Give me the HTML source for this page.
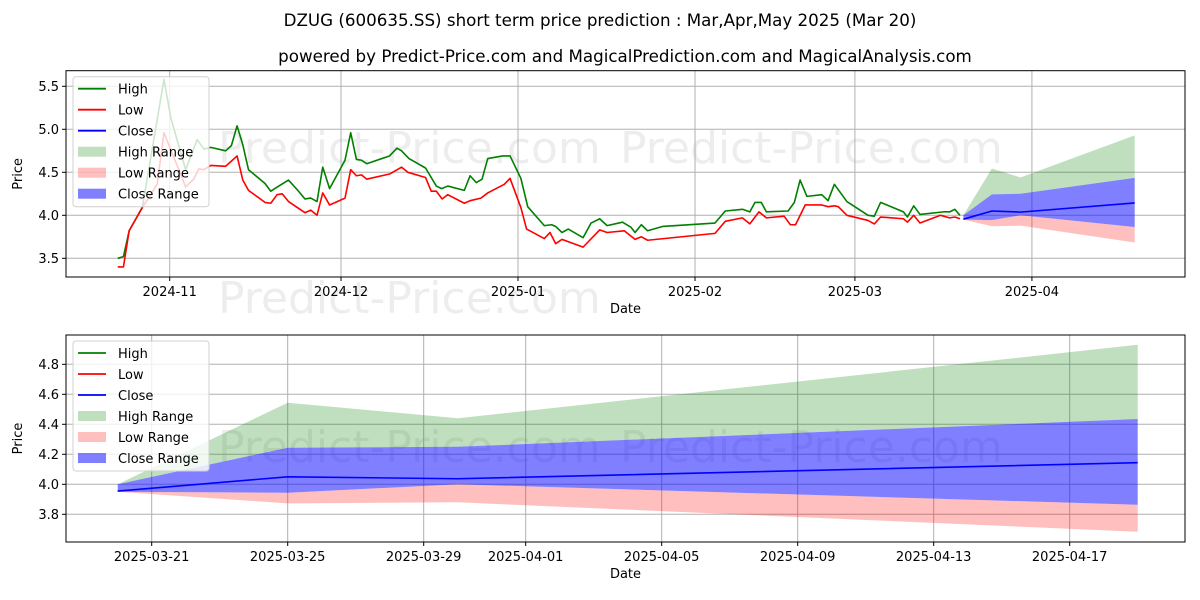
<!DOCTYPE html>
<html><head><meta charset="utf-8"><style>
html,body{margin:0;padding:0;background:#fff;}
svg{display:block;font-family:"DejaVu Sans","Liberation Sans",sans-serif;}
</style></head><body>
<svg id="c" width="1200" height="600" xmlns="http://www.w3.org/2000/svg">
<rect width="1200" height="600" fill="#fff"/>
<text x="600" y="26" font-size="16.7" text-anchor="middle">DZUG (600635.SS) short term price prediction : Mar,Apr,May 2025 (Mar 20)</text>
<text x="625" y="62" font-size="16.7" text-anchor="middle">powered by Predict-Price.com and MagicalPrediction.com and MagicalAnalysis.com</text>
<g id="top"></g>
<g id="bot"></g>
</svg>
<script>
// Historical series (day offsets from 2024-11-01)
const highDays=[-9.1,-8.1,-7.1,-4.8,-1.0,0.2,2.8,4.8,6.0,7.2,9.8,10.8,11.8,12.8,13.8,16.7,17.7,19.1,20.8,22.3,23.7,24.7,25.8,26.8,28.0,30.7,31.7,32.7,33.6,34.5,38.5,39.8,40.6,41.9,44.8,46.7,47.6,48.7,51.6,52.6,53.7,54.7,55.7,58.3,59.6,61.5,62.7,65.6,66.9,67.6,68.7,69.8,72.4,73.8,75.3,76.6,79.3,80.8,81.5,82.6,83.7,86.3,95.5,97.3,100.3,101.6,102.5,103.6,104.5,108.3,109.4,110.4,111.6,114.2,115.3,116.4,118.6,122.3,123.4,124.5,128.5,129.2,130.3,131.4,135.5,136.6,137.5,138.4];
const highVals=[3.50,3.52,3.82,4.09,5.58,5.13,4.53,4.88,4.77,4.79,4.75,4.81,5.04,4.82,4.53,4.37,4.28,4.34,4.41,4.30,4.19,4.20,4.16,4.56,4.31,4.64,4.96,4.65,4.64,4.60,4.69,4.78,4.75,4.66,4.55,4.34,4.31,4.34,4.29,4.46,4.38,4.42,4.66,4.69,4.69,4.43,4.10,3.88,3.89,3.87,3.80,3.84,3.74,3.91,3.96,3.88,3.92,3.86,3.80,3.89,3.82,3.87,3.91,4.05,4.07,4.04,4.15,4.15,4.04,4.05,4.15,4.41,4.22,4.24,4.17,4.36,4.16,4.00,3.99,4.15,4.04,3.98,4.11,4.01,4.04,4.04,4.07,4.00];
const lowDays=[-9.1,-8.1,-7.1,-4.8,-2.2,-1.0,0.2,2.8,4.2,5.1,6.0,7.2,9.8,11.8,12.8,13.8,16.7,17.7,18.8,19.7,20.8,23.7,24.7,25.8,26.8,28.0,30.7,31.7,32.7,33.6,34.5,38.5,40.6,41.7,44.8,45.8,46.7,47.7,48.7,51.6,52.6,54.5,55.7,58.6,59.6,61.5,62.5,65.6,66.6,67.6,68.7,72.4,75.3,76.6,79.6,81.5,82.6,83.7,95.5,97.3,100.3,101.6,103.2,104.5,107.6,108.7,109.6,111.3,114.2,115.3,116.4,117.1,118.6,122.3,123.4,124.5,128.5,129.2,130.3,131.4,135.0,136.6,137.5,138.4];
const lowVals=[3.40,3.40,3.82,4.09,4.36,4.96,4.76,4.33,4.42,4.54,4.53,4.58,4.57,4.69,4.41,4.29,4.15,4.14,4.24,4.25,4.16,4.03,4.06,4.00,4.26,4.12,4.20,4.53,4.46,4.47,4.42,4.48,4.56,4.50,4.44,4.28,4.28,4.19,4.24,4.14,4.17,4.20,4.26,4.36,4.43,4.09,3.84,3.73,3.80,3.67,3.72,3.63,3.83,3.80,3.82,3.72,3.75,3.71,3.79,3.93,3.97,3.90,4.04,3.97,3.99,3.89,3.89,4.12,4.12,4.10,4.11,4.10,4.00,3.94,3.90,3.98,3.96,3.92,4.00,3.91,4.00,3.97,3.98,3.96];
// Forecast
const fcDates=["2025-03-20","2025-03-25","2025-03-30","2025-04-19"];
const fcClose=[3.955,4.05,4.037,4.144];
const fcCloseHi=[4.00,4.244,4.25,4.435];
const fcCloseLo=[3.95,3.944,4.00,3.864];
const fcHighHi=[4.00,4.544,4.44,4.93];
const fcLowLo=[3.95,3.873,3.88,3.684];
const topYTicks=[3.5,4.0,4.5,5.0,5.5];
const topXTicks=["2024-11-01","2024-12-01","2025-01-01","2025-02-01","2025-03-01","2025-04-01"];
const topXLabels=["2024-11","2024-12","2025-01","2025-02","2025-03","2025-04"];
const botYTicks=[3.8,4.0,4.2,4.4,4.6,4.8];
const botXTicks=["2025-03-21","2025-03-25","2025-03-29","2025-04-01","2025-04-05","2025-04-09","2025-04-13","2025-04-17"];

const NS="http://www.w3.org/2000/svg";
const D0=Date.UTC(2024,10,1);
function dayOf(s){const p=s.split("-");return (Date.UTC(+p[0],+p[1]-1,+p[2])-D0)/864e5;}
function mk(parent,tag,attrs,text){const e=document.createElementNS(NS,tag);for(const k in attrs)e.setAttribute(k,attrs[k]);if(text!==undefined)e.textContent=text;parent.appendChild(e);return e;}

function panel(g,cfg){
  const {L,R,T,B,x,y}=cfg;
  cfg.wm.forEach(w=>{const t=mk(g,'text',{x:w[0],y:w[1],'font-size':44,fill:'#000','fill-opacity':0.07},'Predict-Price.com');
    
    });
  cfg.yt.forEach(v=>{const yy=y(v);
    const l=mk(g,'line',{x1:L,x2:R,y1:yy,y2:yy,stroke:'#b0b0b0','stroke-width':1});
    
    
    mk(g,'line',{x1:L-4,x2:L,y1:yy,y2:yy,stroke:'#000'});
    const t=mk(g,'text',{x:L-7,y:yy+4.5,'font-size':13,'text-anchor':'end'},v.toFixed(1));
    
    });
  cfg.xt.forEach((d,i)=>{const xx=x(dayOf(d));
    const l=mk(g,'line',{x1:xx,x2:xx,y1:T,y2:B,stroke:'#b0b0b0','stroke-width':1});
    
    
    mk(g,'line',{x1:xx,x2:xx,y1:B,y2:B+4,stroke:'#000'});
    const t=mk(g,'text',{x:xx,y:B+19,'font-size':13,'text-anchor':'middle'},cfg.xl[i]);
    
    });
  const fd=fcDates.map(dayOf);
  function band(lo,hi,color,op,name){
    let pts=fd.map((d,i)=>x(d)+','+y(hi[i]));
    for(let i=fd.length-1;i>=0;i--)pts.push(x(fd[i])+','+y(lo[i]));
    const p=mk(g,'polygon',{points:pts.join(' '),fill:color,'fill-opacity':op});
    
    }
  band(fcCloseHi,fcHighHi,'#008000',0.25,'high-range-band');
  band(fcLowLo,fcCloseLo,'#ff0000',0.25,'low-range-band');
  band(fcCloseLo,fcCloseHi,'#0000ff',0.5,'close-range-band');
  function line(ds,vs,color,name){
    const p=mk(g,'polyline',{points:ds.map((d,i)=>x(d)+','+y(vs[i])).join(' '),fill:'none',stroke:color,'stroke-width':1.6,'stroke-linejoin':'round'});
    
    }
  if(cfg.hist){line(highDays,highVals,'#008000','high-line');line(lowDays,lowVals,'#ff0000','low-line');}
  line(fd,fcClose,'#0000ff','close-line');
  const f=mk(g,'rect',{x:L,y:T,width:R-L,height:B-T,fill:'none',stroke:'#000','stroke-width':1});
  
  
  const yl=mk(g,'text',{x:0,y:0,'font-size':13,'text-anchor':'middle',transform:`translate(${L-44},${(T+B)/2}) rotate(-90)`},'Price');
  
  
  const xl=mk(g,'text',{x:(L+R)/2,y:B+36,'font-size':13,'text-anchor':'middle'},'Date');
  
  
  const lx=L+7,ly=T+6;
  const lg=mk(g,'g',{});
  
  
  mk(lg,'rect',{x:lx,y:ly,width:136,height:130,rx:3,fill:'#fff','fill-opacity':0.8,stroke:'#d0d0d0'});
  const items=[['High','#008000',1,'l'],['Low','#ff0000',1,'l'],['Close','#0000ff',1,'l'],['High Range','#008000',0.25,'p'],['Low Range','#ff0000',0.25,'p'],['Close Range','#0000ff',0.5,'p']];
  items.forEach((it,i)=>{const cy=ly+12+i*21;
    const eg=mk(lg,'g',{});
    
    
    if(it[3]==='l')mk(eg,'line',{x1:lx+5,x2:lx+33,y1:cy,y2:cy,stroke:it[1],'stroke-width':1.8});
    else mk(eg,'rect',{x:lx+5,y:cy-5,width:28,height:10,fill:it[1],'fill-opacity':it[2]});
    mk(eg,'text',{x:lx+45,y:cy+5,'font-size':13},it[0]);});
}
panel(document.getElementById('top'),{L:66,R:1185,T:70.7,B:277,
  x:d=>169.7+d*5.71, y:v=>258.3-(v-3.5)*86,
  yt:topYTicks,xt:topXTicks,xl:topXLabels,hist:true,wm:[[218,163],[620,163],[218,313]]});
const mar21=dayOf("2025-03-21");
panel(document.getElementById('bot'),{L:66,R:1185,T:335,B:542,
  x:d=>151.7+(d-mar21)*34, y:v=>484.3-(v-4)*150,
  yt:botYTicks,xt:botXTicks,xl:botXTicks,hist:false,wm:[[218,462],[620,462]]});
</script>
</body></html>
